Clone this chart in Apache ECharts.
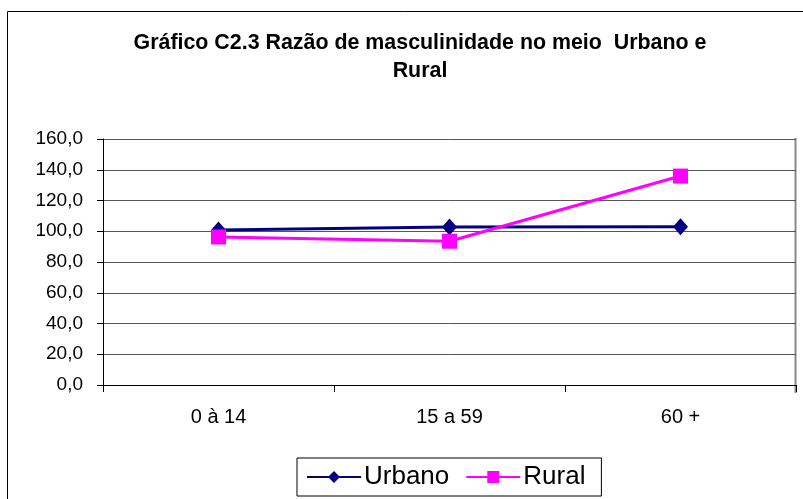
<!DOCTYPE html>
<html><head><meta charset="utf-8">
<script src="https://cdn.jsdelivr.net/npm/echarts@6/dist/echarts.min.js"></script>
<style>html,body{margin:0;padding:0;background:#fff}#c{width:803px;height:499px}</style>
</head><body><div id="c"></div>
<script>
const categories = ['0 à 14', '15 a 59', '60 +'];
const urbano = [100.8, 102.8, 103.0];
const rural = [96.3, 93.5, 135.9];
const yTicks = [0, 20, 40, 60, 80, 100, 120, 140, 160];

const chart = echarts.init(document.getElementById('c'), null, {renderer: 'canvas'});
const FONT = '"Liberation Sans", Arial, sans-serif';
chart.setOption({
  animation: false,
  backgroundColor: '#fff',
  title: {
    text: 'Gráfico C2.3 Razão de masculinidade no meio  Urbano e\nRural',
    left: 415, textAlign: 'center', top: 24,
    textStyle: {fontFamily: FONT, fontWeight: 'bold', fontSize: 21.4, color: '#000', lineHeight: 28}
  },
  grid: {left: 103, right: 7, top: 139, bottom: 114},
  legend: {
    left: 297, top: 458,
    data: ['Urbano', 'Rural'],
    itemWidth: 54, itemHeight: 15, itemGap: 16,
    padding: [6, 16, 6, 9],
    borderColor: '#000', borderWidth: 1,
    textStyle: {fontFamily: FONT, fontSize: 26, color: '#000', padding: [0, 0, 0, -2]}
  },
  xAxis: {
    type: 'category', data: categories, boundaryGap: true,
    axisLine: {lineStyle: {color: '#000', width: 1}},
    axisTick: {show: true, length: 7, lineStyle: {color: '#000'}},
    axisLabel: {fontFamily: FONT, fontSize: 20, color: '#000', margin: 22}
  },
  yAxis: {
    type: 'value', min: 0, max: 160, interval: 20,
    axisLine: {show: true, lineStyle: {color: '#000', width: 1}},
    axisTick: {show: true, length: 6, lineStyle: {color: '#000'}},
    splitLine: {lineStyle: {color: '#555', width: 1}},
    axisLabel: {fontFamily: FONT, fontSize: 19, color: '#000', margin: 20, padding: [0, 0, 6, 0],
      formatter: v => v.toFixed(1).replace('.', ',')}
  },
  series: [
    {name: 'Urbano', type: 'line', data: urbano, symbol: 'diamond', symbolSize: [15, 17],
     lineStyle: {color: '#000080', width: 3}, itemStyle: {color: '#000080'}, z: 2},
    {name: 'Rural', type: 'line', data: rural, symbol: 'rect', symbolSize: 15,
     lineStyle: {color: '#FF00FF', width: 3}, itemStyle: {color: '#FF00FF'}, z: 3}
  ],
  graphic: [
    {type: 'rect', shape: {x: 7.5, y: 11.5, width: 810, height: 500}, style: {fill: null, stroke: '#000', lineWidth: 1}, silent: true},
    {type: 'line', shape: {x1: 795.5, y1: 138, x2: 795.5, y2: 393}, style: {stroke: '#888', lineWidth: 2}, silent: true}
  ]
});
</script></body></html>
